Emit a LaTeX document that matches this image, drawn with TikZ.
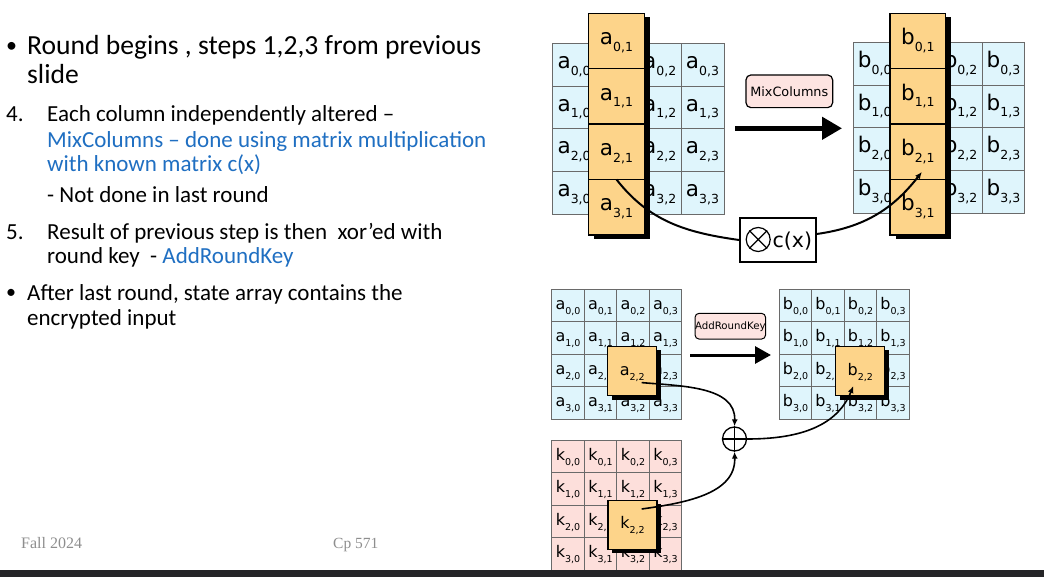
\documentclass[tikz,border=0pt]{standalone}
\usepackage{fontspec}
\setmainfont{Carlito}
\newfontfamily\cellfont{DejaVu Sans}
\newfontfamily\footfont{Liberation Serif}
\usetikzlibrary{arrows.meta}

\definecolor{cellblue}{HTML}{DFF5FC}
\definecolor{cellpink}{HTML}{FDDFDB}
\definecolor{colorange}{HTML}{FDD48A}
\definecolor{labelpink}{HTML}{FDE4E1}
\definecolor{textblue}{HTML}{1F6FC2}
\definecolor{gridgray}{HTML}{6A6A6A}
\definecolor{footgray}{HTML}{8E8E8E}
\definecolor{barcolor}{HTML}{252528}

% state-cell labels: letter with lowered index
\newcommand\Lbl[2]{#1\raisebox{-6.7pt}{\fontsize{12.5}{12.5}\selectfont#2}}
\newcommand\lbl[2]{#1\raisebox{-5pt}{\fontsize{9.5}{9.5}\selectfont#2}}

\tikzset{
  bigcell/.style={draw=gridgray, line width=0.8pt, fill=cellblue, minimum width=42.8pt,
    minimum height=42.8pt, inner sep=0pt, outer sep=0pt, text height=12pt, text depth=4.6pt,
    font=\cellfont\fontsize{21.5}{21.5}\selectfont},
  bigorange/.style={bigcell, draw=black, line width=1.3pt, fill=colorange, minimum width=55.6pt,
    minimum height=55.4pt},
  smallcell/.style={draw=gridgray, line width=0.8pt, fill=cellblue, minimum width=32.5pt,
    minimum height=32.5pt, inner sep=0pt, outer sep=0pt, text height=11pt, text depth=3.4pt,
    font=\cellfont\fontsize{16}{16}\selectfont},
  keycell/.style={smallcell, fill=cellpink},
  smallorange/.style={smallcell, draw=black, line width=1.3pt, fill=colorange,
    minimum width=49pt, minimum height=49pt},
  oplabel/.style={draw=black, line width=1.2pt, fill=labelpink, rounded corners=5pt,
    inner sep=0pt, font=\cellfont},
  bigarrow/.style={line width=4.5pt, -{Triangle[length=20pt,width=22pt]}},
  midarrow/.style={line width=3pt, -{Triangle[length=16pt,width=17pt]}},
  flow/.style={line width=1.6pt, -{Latex[length=7pt,width=6pt]}},
  slide/.style={anchor=base west, inner sep=0pt, text=black},
  lvlA/.style={slide, font=\fontsize{27.6}{27.6}\selectfont},
  lvlB/.style={slide, font=\fontsize{23}{23}\selectfont},
  dot/.style={anchor=base west, inner sep=0pt, font=\fontsize{22}{22}\selectfont},
  foot/.style={anchor=base west, inner sep=0pt, text=footgray, font=\footfont\fontsize{16}{16}\selectfont},
}

\begin{document}
\begin{tikzpicture}[x=1pt, y=-1pt]
\useasboundingbox (0,0) rectangle (1044,577);
\fill[white] (0,0) rectangle (1044,577);

% ---------------- slide text ----------------
\node[dot] (b1) at (6,53) {•};
\node[lvlA] (t1) at (27,55) {Round begins , steps 1,2,3 from previous};
\node[lvlA] (t2) at (27,83.3) {slide};
\node[lvlB] (n4) at (6,121.7) {4.};
\node[lvlB] (t3) at (47,121.7) {Each column independently altered –};
\node[lvlB, text=textblue] (t4) at (47,147.7) {MixColumns – done using matrix multiplication};
\node[lvlB, text=textblue] (t5) at (47,171.7) {with known matrix c(x)};
\node[lvlB] (t6) at (47,202.7) {- Not done in last round};
\node[lvlB] (n5) at (6,240) {5.};
\node[lvlB] (t7) at (47,240) {Result of previous step is then\ \ xor’ed with};
\node[lvlB] (t8) at (47,264) {round key\ \ - \textcolor{textblue}{AddRoundKey}};
\node[dot, font=\fontsize{20}{20}\selectfont] (b2) at (6,299) {•};
\node[lvlB] (t9) at (27,300.7) {After last round, state array contains the};
\node[lvlB] (t10) at (27,325) {encrypted input};

\node[foot] (f1) at (21,548.3) {Fall 2024};
\node[foot, font=\footfont\fontsize{15.5}{15.5}\selectfont] (f2) at (333,548.3) {Cp 571};

% ---------------- MixColumns ----------------
\foreach \r in {0,...,3}{\foreach \c in {0,...,3}{
  \node[bigcell] (aT-\r-\c) at ({552.7+42.8*(\c+0.5)},{43.3+42.8*(\r+0.5)}) {\Lbl{a}{\r,\c}};
  \node[bigcell] (bT-\r-\c) at ({853.3+42.9*(\c+0.5)},{42.3+42.8*(\r+0.5)}) {\Lbl{b}{\r,\c}};
}}
% lifted column 1 with drop shadow
\fill[black] (594.2,17.3) rectangle (649.8,239);
\fill[black] (895.5,17.3) rectangle (951.2,239);
\foreach \r in {0,...,3}{
  \node[bigorange] (aTo-\r) at (616.5,{13.3+55.4*(\r+0.5)}) {\Lbl{a}{\r,1}};
  \node[bigorange] (bTo-\r) at (917.9,{13.3+55.4*(\r+0.5)}) {\Lbl{b}{\r,1}};
}

\node[oplabel, minimum width=86.7pt, minimum height=32.7pt, font=\cellfont\fontsize{12.8}{12.8}\selectfont]
  (mix) at (789.3,91.3) {MixColumns};
\coordinate (mcA) at (735,128.3);
\coordinate (mcB) at (842,128.3);
\draw[bigarrow] (mcA) -- (mcB);

% c(x) multiplier box
\node[draw=black, line width=2pt, fill=white, minimum width=75.7pt, minimum height=43.4pt, inner sep=0pt]
  (cx) at (777.9,240) {};
\node[circle, draw=black, line width=1.2pt, minimum size=24pt, inner sep=0pt] (otimes) at (758.2,239.5) {};
\draw[line width=1.2pt] (otimes.north west) -- (otimes.south east) (otimes.north east) -- (otimes.south west);
\node[font=\cellfont\fontsize{20.5}{20.5}\selectfont, inner sep=0pt] (cxt) at (792.3,241) {c(x)};

\draw[line width=2pt] (aTo-2.south) to[out=-52, in=172] (cx.west);
\draw[flow, line width=2pt] ([yshift=6pt]cx.east) to[out=8, in=-128] ([xshift=4pt, yshift=7.6pt]bTo-2.south);

% ---------------- AddRoundKey ----------------
\foreach \r in {0,...,3}{\foreach \c in {0,...,3}{
  \node[smallcell] (aB-\r-\c) at ({551.7+32.5*(\c+0.5)},{289.3+32.5*(\r+0.5)}) {\lbl{a}{\r,\c}};
  \node[smallcell] (bB-\r-\c) at ({779.3+32.5*(\c+0.5)},{289.3+32.5*(\r+0.5)}) {\lbl{b}{\r,\c}};
  \node[keycell] (kB-\r-\c) at ({551.7+32.5*(\c+0.5)},{440+32.5*(\r+0.5)}) {\lbl{k}{\r,\c}};
}}
\fill[black] (611.7,350.2) rectangle (661,399.5);
\fill[black] (839.7,350.2) rectangle (889,399.5);
\fill[black] (611.7,503.5) rectangle (661.3,553);
\node[smallorange] (aBo) at (632.2,371.2) {\lbl{a}{2,2}};
\node[smallorange] (bBo) at (860.3,371.2) {\lbl{b}{2,2}};
\node[smallorange] (kBo) at (632.5,524.7) {\lbl{k}{2,2}};

\node[oplabel, line width=1pt, rounded corners=4pt, minimum width=66pt, minimum height=25.7pt,
  font=\cellfont\fontsize{10.2}{10.2}\selectfont] (ark) at (730.3,326.2) {AddRoundKey};
\coordinate (arA) at (690,355);
\coordinate (arB) at (771,355);
\draw[midarrow] (arA) -- (arB);

\node[circle, draw=black, line width=1.3pt, fill=white, minimum size=24pt, inner sep=0pt] (xor) at (734.5,439) {};
\draw[line width=1.3pt] (xor.north) -- (xor.south) (xor.west) -- (xor.east);

\draw[flow] ([xshift=9.5pt, yshift=-11.4pt]aBo.center) to[out=-5, in=88] (xor.north);
\draw[flow] ([xshift=9.2pt, yshift=15.7pt]kBo.center) to[out=8, in=-88] (xor.south);
\draw[flow] (xor.east) to[out=0, in=-112] ([xshift=-7pt, yshift=-14.8pt]bBo.center);

% bottom bar
\fill[barcolor] (0,570) rectangle (1044,577);
\end{tikzpicture}
\end{document}
